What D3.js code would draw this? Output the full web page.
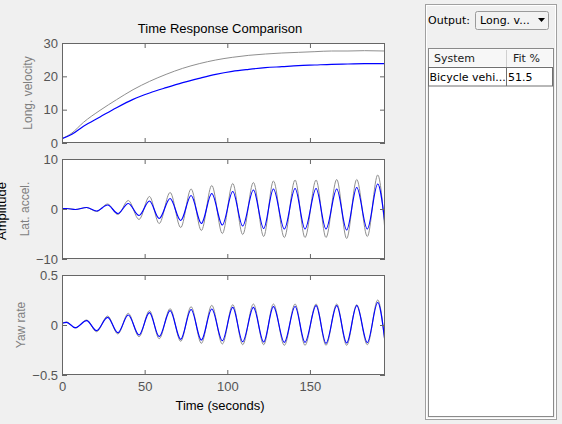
<!DOCTYPE html>
<html>
<head>
<meta charset="utf-8">
<script src="https://cdn.jsdelivr.net/npm/d3@7/dist/d3.min.js"></script>
<style>
  body { margin: 0; background: #f0f0f0; }
  svg { display: block; font-family: 'Liberation Sans', Arial, sans-serif; }
</style>
</head>
<body>
<div id="chart"></div>
<script>
// time points (s) read at the peaks/troughs of the oscillating outputs
const oscTime = [0, 2.8, 8.0, 14.9, 20.9, 27.6, 33.8, 40.1, 46.6, 52.9, 58.8, 65.4, 71.8, 78.1,
  84.3, 90.6, 97.0, 103.3, 109.3, 115.8, 122.0, 127.9, 134.5, 141.0, 147.0, 153.7, 159.7,
  166.2, 172.2, 178.3, 184.7, 191.0, 195.4];

const latAccelModel = [0.1, 0.1, -0.1, 0.3, -0.4, 0.8, -0.9, 1.1, -1.3, 1.6, -1.9, 2.1, -2.3, 2.7,
  -2.9, 3.1, -3.2, 3.5, -3.4, 3.8, -3.9, 4.0, -4.0, 4.1, -4.0, 4.1, -4.0, 4.0, -4.2, 4.3,
  -4.0, 5.0, -3.0];
const latAccelMeas = [0.1, 0.1, -0.1, 0.3, -0.5, 1.0, -1.1, 1.7, -2.1, 2.5, -2.9, 3.3, -3.7, 4.0,
  -4.3, 4.7, -4.9, 5.1, -5.1, 5.3, -5.5, 5.6, -5.7, 5.8, -5.7, 5.8, -5.7, 5.9, -5.9, 5.9,
  -5.5, 6.8, -4.5];

const yawModel = [0.017, 0.027, -0.027, 0.043, -0.057, 0.077, -0.077, 0.100, -0.100, 0.123, -0.117,
  0.143, -0.143, 0.155, -0.150, 0.160, -0.157, 0.177, -0.167, 0.177, -0.170, 0.183, -0.173,
  0.185, -0.173, 0.193, -0.183, 0.193, -0.180, 0.193, -0.175, 0.225, -0.167];
const yawMeas = [0.017, 0.030, -0.030, 0.050, -0.067, 0.090, -0.090, 0.117, -0.117, 0.143, -0.137,
  0.163, -0.163, 0.183, -0.183, 0.197, -0.190, 0.203, -0.197, 0.210, -0.197, 0.210, -0.203,
  0.210, -0.203, 0.210, -0.203, 0.210, -0.203, 0.203, -0.197, 0.250, -0.183];

const velTime = [0, 6, 13, 23, 33, 43, 53, 63, 73, 83, 93, 103, 113, 123, 133, 143, 153, 163, 173, 183, 195.4];
const velModel = [1.3, 2.6, 5.0, 7.8, 10.6, 13.1, 15.0, 16.6, 18.1, 19.4, 20.6, 21.5, 22.1, 22.6,
  22.9, 23.2, 23.4, 23.6, 23.7, 23.8, 23.8];
const velMeas = [1.3, 3.0, 6.2, 9.8, 13.0, 16.0, 18.5, 20.6, 22.4, 23.8, 24.9, 25.7, 26.3, 26.7,
  27.0, 27.2, 27.4, 27.6, 27.6, 27.7, 27.6];

const xTicks = [0, 50, 100, 150];
const outputNames = ['Long. velocity', 'Lat. accel.', 'Yaw rate'];
const yTicks = [[0, 10, 20, 30], [-10, 0, 10], [-0.5, 0, 0.5]];
const yDomains = [[0, 30], [-10, 10], [-0.5, 0.5]];

const tableHead = ['System', 'Fit %'];
const tableRow = ['Bicycle vehi...', '51.5'];

const W = 562, H = 424;
const left = 62, plotW = 323, plotH = 100;
const tops = [43, 159, 275];
const labelX = [32, 28.5, 25];

const svg = d3.select('#chart').append('svg').attr('width', W).attr('height', H);
svg.append('rect').attr('width', W).attr('height', H).attr('fill', '#f0f0f0');

const x = d3.scaleLinear().domain([0, 195.4]).range([0, plotW]);

const series = [
  [velTime, velMeas, velModel],
  [oscTime, latAccelMeas, latAccelModel],
  [oscTime, yawMeas, yawModel],
];

series.forEach(([t, meas, model], i) => {
  const y = d3.scaleLinear().domain(yDomains[i]).range([plotH, 0]);
  const g = svg.append('g').attr('transform', `translate(${left},${tops[i]})`);

  g.append('rect').attr('width', plotW).attr('height', plotH).attr('fill', '#fff');

  g.append('clipPath').attr('id', 'clip' + i)
    .append('rect').attr('width', plotW).attr('height', plotH);

  const line = (vals) => d3.line()
    .x((d, k) => x(t[k]))
    .y((d) => y(d))
    .curve(d3.curveMonotoneX)(vals);

  const lines = g.append('g').attr('clip-path', `url(#clip${i})`);
  lines.append('path').attr('d', line(meas))
    .attr('fill', 'none').attr('stroke', '#8f8f8f').attr('stroke-width', 1);
  lines.append('path').attr('d', line(model))
    .attr('fill', 'none').attr('stroke', '#0000ff').attr('stroke-width', 1.2);

  // axes with ticks pointing inward
  const ax = (sel) => sel.call((s) => s.select('.domain').remove())
    .call((s) => s.selectAll('line').attr('stroke', '#666'))
    .call((s) => s.selectAll('text').attr('fill', '#555').style('font-size', '13px')
      .style('font-family', "'Liberation Sans', Arial, sans-serif"));

  g.append('g').call(d3.axisLeft(y).tickValues(yTicks[i]).tickSize(-5).tickPadding(4)
    .tickFormat(d3.format('')))
    .call(ax);
  g.append('g').attr('transform', `translate(${plotW},0)`)
    .call(d3.axisRight(y).tickValues(yTicks[i]).tickSize(-5).tickFormat(''))
    .call(ax);
  g.append('g')
    .call(d3.axisTop(x).tickValues(xTicks).tickSize(-5).tickFormat(''))
    .call(ax);
  const bottom = d3.axisBottom(x).tickValues(xTicks).tickSize(-5).tickPadding(7);
  if (i < 2) bottom.tickFormat('');
  g.append('g').attr('transform', `translate(0,${plotH})`).call(bottom).call(ax);

  g.append('rect').attr('x', 0.5).attr('y', 0.5).attr('width', plotW - 1).attr('height', plotH - 1)
    .attr('fill', 'none').attr('stroke', '#666');

  svg.append('text')
    .attr('transform', `translate(${labelX[i]},${tops[i] + plotH / 2}) rotate(-90)`)
    .attr('text-anchor', 'middle').attr('fill', '#7f7f7f').style('font-size', '12px')
    .text(outputNames[i]);
});

svg.append('text').attr('x', 220).attr('y', 33).attr('text-anchor', 'middle')
  .style('font-size', '13px').text('Time Response Comparison');
svg.append('text').attr('x', 220).attr('y', 410).attr('text-anchor', 'middle')
  .style('font-size', '13px').text('Time (seconds)');
// partly outside the window, as in the original figure
svg.append('text').attr('transform', 'translate(5.5,211) rotate(-90)')
  .attr('text-anchor', 'middle').style('font-size', '13px').text('Amplitude');

// side panel
const side = svg.append('g').style('font-family', "'DejaVu Sans', sans-serif").style('font-size', '11px');
side.append('rect').attr('x', 425.5).attr('y', 4.5).attr('width', 131).attr('height', 415)
  .attr('fill', 'none').attr('stroke', '#a0a0a0');
side.append('rect').attr('x', 426.5).attr('y', 5.5).attr('width', 129).attr('height', 413)
  .attr('fill', 'none').attr('stroke', '#fff');

side.append('text').attr('x', 428).attr('y', 24).attr('fill', '#000').text('Output:');
side.append('rect').attr('x', 475.5).attr('y', 11.5).attr('width', 73).attr('height', 18).attr('rx', 2)
  .attr('fill', '#f2f2f2').attr('stroke', '#9a9a9a');
side.append('text').attr('x', 480).attr('y', 24).text('Long. v...');
side.append('path').attr('d', 'M538,18 L545,18 L541.5,22 Z').attr('fill', '#000');

side.append('rect').attr('x', 428.5).attr('y', 48.5).attr('width', 125).attr('height', 368)
  .attr('fill', '#fff').attr('stroke', '#8a8a8a');
side.append('rect').attr('x', 429.5).attr('y', 49.5).attr('width', 123).attr('height', 17)
  .attr('fill', '#f7f7f7').attr('stroke', 'none');
side.append('line').attr('x1', 429).attr('x2', 553).attr('y1', 67.5).attr('y2', 67.5).attr('stroke', '#c8c8c8');
side.append('line').attr('x1', 506.5).attr('x2', 506.5).attr('y1', 50).attr('y2', 67).attr('stroke', '#d0d0d0');
side.append('text').attr('x', 434).attr('y', 62).attr('fill', '#222').text(tableHead[0]);
side.append('text').attr('x', 513).attr('y', 62).attr('fill', '#222').text(tableHead[1]);

side.append('rect').attr('x', 428.5).attr('y', 67.5).attr('width', 124).attr('height', 18.5)
  .attr('fill', '#fff').attr('stroke', '#707070');
side.append('line').attr('x1', 506.5).attr('x2', 506.5).attr('y1', 68).attr('y2', 86).attr('stroke', '#707070');
side.append('text').attr('x', 429.5).attr('y', 81).text(tableRow[0]);
side.append('text').attr('x', 508).attr('y', 81).text(tableRow[1]);
</script>
</body>
</html>
